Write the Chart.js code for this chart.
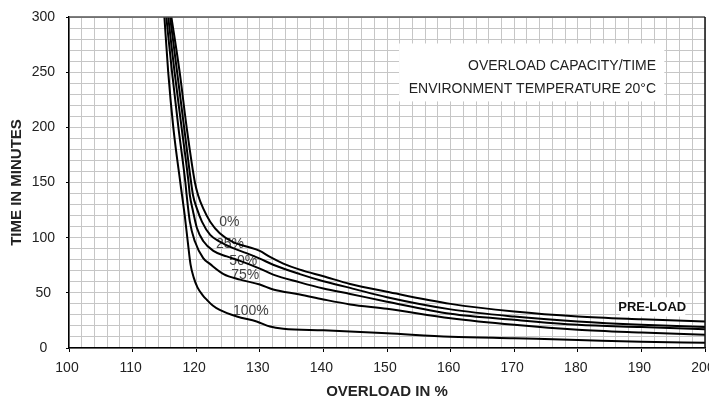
<!DOCTYPE html>
<html>
<head>
<meta charset="utf-8">
<script src="https://cdn.jsdelivr.net/npm/chart.js@4/dist/chart.umd.min.js"></script>
<style>
  html, body { margin: 0; padding: 0; background: #fff; }
  #wrap { width: 709px; height: 399px; position: relative; }
</style>
</head>
<body>
<div id="wrap"><canvas id="grafico"></canvas></div>
<script>
// Curvas de sobrecarga (x = sobrecarga %, y = minutos)
const overload0 = [116.1, 117.4, 118.5, 119.8, 120.3, 121.1, 122.2, 123.7, 125.8, 127.9, 130, 131.6, 133.7, 136.3, 140, 144.2, 150, 160, 170, 180, 190, 200];
const minutes0  = [300, 250, 200, 150, 138.5, 126.5, 114.5, 104, 96, 92, 88, 82.5, 76.5, 71, 65, 58, 51, 40, 33, 28.5, 26, 24];

const overload25 = [115.9, 117.0, 118.1, 119.2, 119.5, 120.1, 120.9, 122.2, 123.7, 125.8, 127.9, 130, 132.1, 136.3, 140, 144.2, 150, 160, 170, 180, 190, 200];
const minutes25  = [300, 250, 200, 150, 138.5, 126.5, 114.5, 102.5, 96.5, 90.5, 86, 81, 75.5, 67, 60.5, 54.5, 46, 35, 28.5, 24, 21, 19];

const overload50 = [115.6, 116.6, 117.7, 118.8, 119.0, 119.5, 120.1, 121.1, 122.7, 124.8, 126.9, 130, 132.1, 136.3, 140, 144.2, 150, 160, 170, 180, 190, 200];
const minutes50  = [300, 250, 200, 150, 138.5, 124, 109, 97, 88, 83, 79, 72, 66.5, 59.5, 54, 49, 42, 31, 25.5, 21, 19, 17];

const overload75 = [115.3, 116.2, 117.2, 118.3, 118.5, 119.0, 119.8, 121.1, 122.2, 124.3, 126.9, 130, 132.1, 136.3, 140, 144.2, 150, 160, 170, 180, 190, 200];
const minutes75  = [300, 250, 200, 150, 138.5, 114.5, 96.5, 81.5, 76, 67, 62, 57.5, 53, 48.5, 44, 39.5, 35.5, 27, 21, 16.5, 14, 12];

const overload100 = [115.0, 115.6, 116.4, 117.5, 118.2, 118.7, 119.1, 119.6, 120.2, 121.0, 121.7, 122.6, 123.7, 126.4, 129.5, 131.6, 133.7, 140, 150, 160, 170, 180, 190, 200];
const minutes100  = [300, 250, 200, 150, 120, 95, 76, 64, 55, 48, 43.5, 38.5, 34.5, 28.5, 24, 19.5, 17.5, 16, 13.3, 10.3, 8.8, 7.3, 5.7, 4.8];

// Rotulos das curvas (pre-carga) e sua posicao em unidades do grafico
const curveLabels = ['0%', '25%', '50%', '75%', '100%'];
const labelOverload = [125.2, 125.3, 127.4, 127.7, 128.6];
const labelMinutes = [114, 94, 79, 66, 33];

const infoLines = ['OVERLOAD CAPACITY/TIME', 'ENVIRONMENT TEMPERATURE 20°C'];

const NARROW = "'Liberation Sans Narrow', 'Arial Narrow', 'Liberation Sans', sans-serif";

function toPoints(xs, ys) {
  return xs.map((v, i) => ({ x: v, y: ys[i] }));
}

const series = [
  [overload0, minutes0],
  [overload25, minutes25],
  [overload50, minutes50],
  [overload75, minutes75],
  [overload100, minutes100]
];

const textosPlugin = {
  id: 'textos',
  beforeDatasetsDraw(chart) {
    const { ctx, scales: { x, y } } = chart;
    ctx.save();

    // caixa branca com o titulo interno
    const bx1 = x.getPixelForValue(151.9), bx2 = x.getPixelForValue(193.6);
    const by1 = y.getPixelForValue(276), by2 = y.getPixelForValue(223.5);
    ctx.fillStyle = '#fff';
    ctx.fillRect(bx1, by1, bx2 - bx1, by2 - by1);
    ctx.fillStyle = '#222';
    ctx.font = '14px ' + NARROW;
    ctx.textAlign = 'right';
    ctx.textBaseline = 'middle';
    ctx.fillText(infoLines[0], x.getPixelForValue(192.3), y.getPixelForValue(255.5));
    ctx.fillText(infoLines[1], x.getPixelForValue(192.3), y.getPixelForValue(234.6));

    // PRE-LOAD
    const px1 = x.getPixelForValue(186.6), px2 = x.getPixelForValue(196.9);
    const py1 = y.getPixelForValue(46), py2 = y.getPixelForValue(28.5);
    ctx.fillStyle = '#fff';
    ctx.fillRect(px1, py1, px2 - px1, py2 - py1);
    ctx.fillStyle = '#111';
    ctx.font = 'bold 13px ' + NARROW;
    ctx.textAlign = 'center';
    ctx.fillText('PRE-LOAD', x.getPixelForValue(191.7), y.getPixelForValue(37));

    // rotulos das curvas
    ctx.fillStyle = '#444';
    ctx.font = '14px ' + NARROW;
    curveLabels.forEach((t, i) => {
      ctx.fillText(t, x.getPixelForValue(labelOverload[i]), y.getPixelForValue(labelMinutes[i]));
    });
    ctx.restore();
  },
  afterDraw(chart) {
    const { ctx, chartArea: a } = chart;
    ctx.save();
    ctx.strokeStyle = '#555';
    ctx.lineWidth = 1.5;
    ctx.beginPath();
    ctx.moveTo(a.left, a.top);
    ctx.lineTo(a.right, a.top);
    ctx.stroke();
    ctx.strokeStyle = '#111';
    ctx.beginPath();
    ctx.moveTo(a.right, a.top);
    ctx.lineTo(a.right, a.bottom);
    ctx.stroke();
    ctx.restore();
  }
};

new Chart(document.getElementById('grafico'), {
  type: 'scatter',
  data: {
    datasets: series.map((s, i) => ({
      label: curveLabels[i],
      data: toPoints(s[0], s[1]),
      showLine: true,
      borderColor: '#000',
      borderWidth: 2,
      pointRadius: 0,
      cubicInterpolationMode: 'monotone',
      fill: false
    }))
  },
  options: {
    responsive: true,
    maintainAspectRatio: false,
    animation: false,
    layout: { padding: { top: 17, right: 4, left: 0, bottom: 0 } },
    plugins: {
      legend: { display: false },
      tooltip: { enabled: false }
    },
    scales: {
      x: {
        type: 'linear',
        min: 100,
        max: 200,
        afterFit: (s) => { s.height = 51; s.paddingLeft = 0; s.paddingRight = 0; },
        ticks: {
          stepSize: 2,
          autoSkip: false,
          maxRotation: 0,
          padding: 8,
          labelOffset: -2,
          color: '#222',
          font: { family: NARROW, size: 14 },
          callback: (v) => (v % 10 === 0 ? v : '')
        },
        grid: {
          color: '#c6c6c6',
          lineWidth: 1,
          tickLength: 4,
          tickColor: (c) => (c.tick && c.tick.value % 10 === 0 ? '#000' : 'rgba(0,0,0,0)')
        },
        border: { color: '#000', width: 1.5 },
        title: {
          display: true,
          text: 'OVERLOAD IN %',
          color: '#222',
          font: { family: NARROW, size: 15, weight: 'bold', lineHeight: 1 },
          padding: { top: 0, bottom: 0 }
        }
      },
      y: {
        min: 0,
        max: 300,
        afterFit: (s) => { s.width = 69; s.paddingTop = 0; s.paddingBottom = 0; },
        ticks: {
          stepSize: 10,
          autoSkip: false,
          crossAlign: 'center',
          padding: 11,
          color: '#222',
          font: { family: NARROW, size: 14 },
          callback: (v) => (v % 50 === 0 ? v : '')
        },
        grid: {
          color: '#c6c6c6',
          lineWidth: 1,
          tickLength: 3,
          tickColor: (c) => (c.tick && c.tick.value % 50 === 0 ? '#000' : 'rgba(0,0,0,0)')
        },
        border: { color: '#000', width: 1.5 },
        title: {
          display: true,
          text: 'TIME IN MINUTES',
          color: '#222',
          font: { family: NARROW, size: 15, weight: 'bold' },
          padding: { top: 8, bottom: 0 }
        }
      }
    }
  },
  plugins: [textosPlugin]
});
</script>
</body>
</html>
